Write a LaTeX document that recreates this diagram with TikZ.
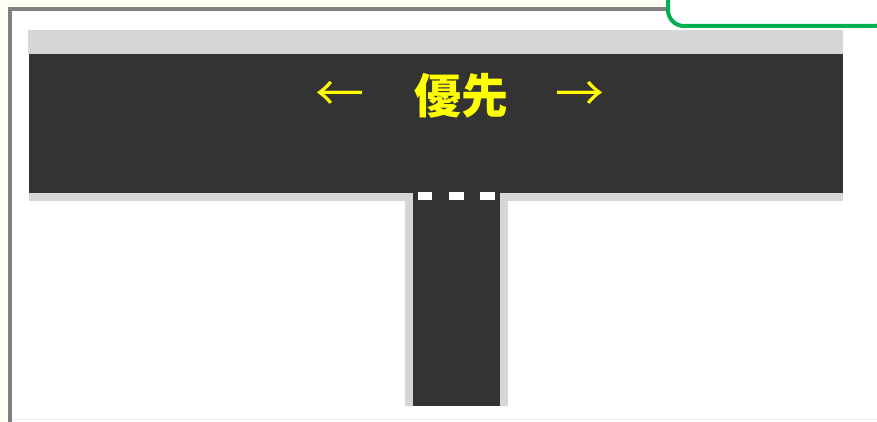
\documentclass[tikz,border=0pt]{standalone}
\usepackage{fontspec}
\newfontfamily\cjk{Noto Sans CJK JP}
\definecolor{road}{HTML}{333333}
\definecolor{curb}{HTML}{D6D6D6}
\definecolor{frame}{HTML}{808080}
\definecolor{cream}{HTML}{FFFEF2}
\definecolor{grn}{HTML}{00B050}
\definecolor{yel}{HTML}{FFFF00}
\tikzset{
  roadfill/.style={fill=road, draw=none},
  curbfill/.style={fill=curb, draw=none},
  dashbox/.style={fill=white, draw=none},
  label/.style={text=yel, font=\cjk\bfseries\fontsize{47}{47}\selectfont, inner sep=0pt},
  arrowlabel/.style={text=yel, font=\cjk\fontsize{49}{49}\selectfont, inner sep=0pt}
}
\begin{document}
\begin{tikzpicture}[x=1pt,y=-1pt]
\useasboundingbox (0,0) rectangle (877,422);
\fill[cream] (0,0) rectangle (877,422);
% frame
\fill[white] (10,9) rectangle (877,422);
\draw[frame, line width=4pt] (10,422) -- (10,9) -- (877,9);
\draw[black!8, line width=1pt] (12,419.5) -- (877,419.5);
% green box
\draw[grn, line width=4pt, fill=white, rounded corners=16pt] (668,-20) -- (668,26) -- (890,26) -- (890,-20);
% top curb
\fill[curbfill] (28,30) rectangle (843,54);
% bottom curbs
\fill[curbfill] (29,193) rectangle (413,201);
\fill[curbfill] (500,193) rectangle (843,201);
% side road curbs
\fill[curbfill] (405,193) rectangle (413,406);
\fill[curbfill] (500,193) rectangle (508,406);
% main road
\fill[roadfill] (29,54) rectangle (843,193);
% side road
\fill[roadfill] (413,190) rectangle (500,406);
% stop dashes
\fill[dashbox] (418,192) rectangle (432,200);
\fill[dashbox] (449,192) rectangle (464,200);
\fill[dashbox] (480,192) rectangle (495,200);
% text
\node[label] (yusen) at (461,96) {優先};
\node[arrowlabel] (la) at (340,96) {←};
\node[arrowlabel] (ra) at (580,96) {→};
\end{tikzpicture}
\end{document}
